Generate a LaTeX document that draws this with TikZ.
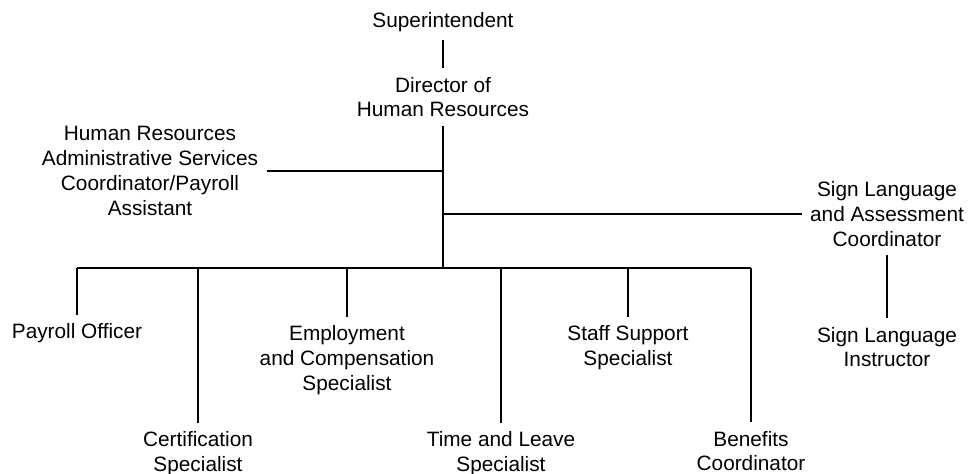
\documentclass[tikz,border=0pt]{standalone}
\usepackage{fontspec}
\setmainfont{Liberation Sans}
\usepackage{tikz}
\usetikzlibrary{calc}

\begin{document}
\begin{tikzpicture}[x=0.5pt, y=-0.5pt, line width=0.6pt,
    cargo/.style={align=center, inner sep=4pt, font=\fontsize{10.4}{12.4}\selectfont}]
    \useasboundingbox (0,0) rectangle (969,474);
    % Direcao
    \node[cargo] (sup) at (443,22) {Superintendent};
    \node[cargo] (dir) at (443,97) {Director of\\Human Resources};
    \node[cargo] (admin) at (150,171) {Human Resources\\Administrative Services\\Coordinator/Payroll\\Assistant};
    \node[cargo] (slac) at (887,214) {Sign Language\\and Assessment\\Coordinator};
    \node[cargo] (sli) at (887,347) {Sign Language\\Instructor};
    % Equipe
    \node[cargo] (po) at (77,333) {Payroll Officer};
    \node[cargo] (cert) at (198,454) {Certification\\Specialist};
    \node[cargo] (emp) at (347,360) {Employment\\and Compensation\\Specialist};
    \node[cargo] (tl) at (501,454) {Time and Leave\\Specialist};
    \node[cargo] (ssp) at (628,348) {Staff Support\\Specialist};
    \node[cargo] (ben) at (751,451) {Benefits\\Coordinator};
    \coordinate (bus) at (443,268);
    % Ligacoes
    \draw (sup) -- (dir);
    \draw (dir) -- (bus);
    \draw (admin) -- (admin -| dir);
    \draw (slac) -- (slac -| dir);
    \draw (slac) -- (sli);
    \draw (po |- bus) -- (ben |- bus);
    \foreach \n in {po,cert,emp,tl,ssp,ben}
        \draw (\n) -- (\n |- bus);
\end{tikzpicture}
\end{document}
